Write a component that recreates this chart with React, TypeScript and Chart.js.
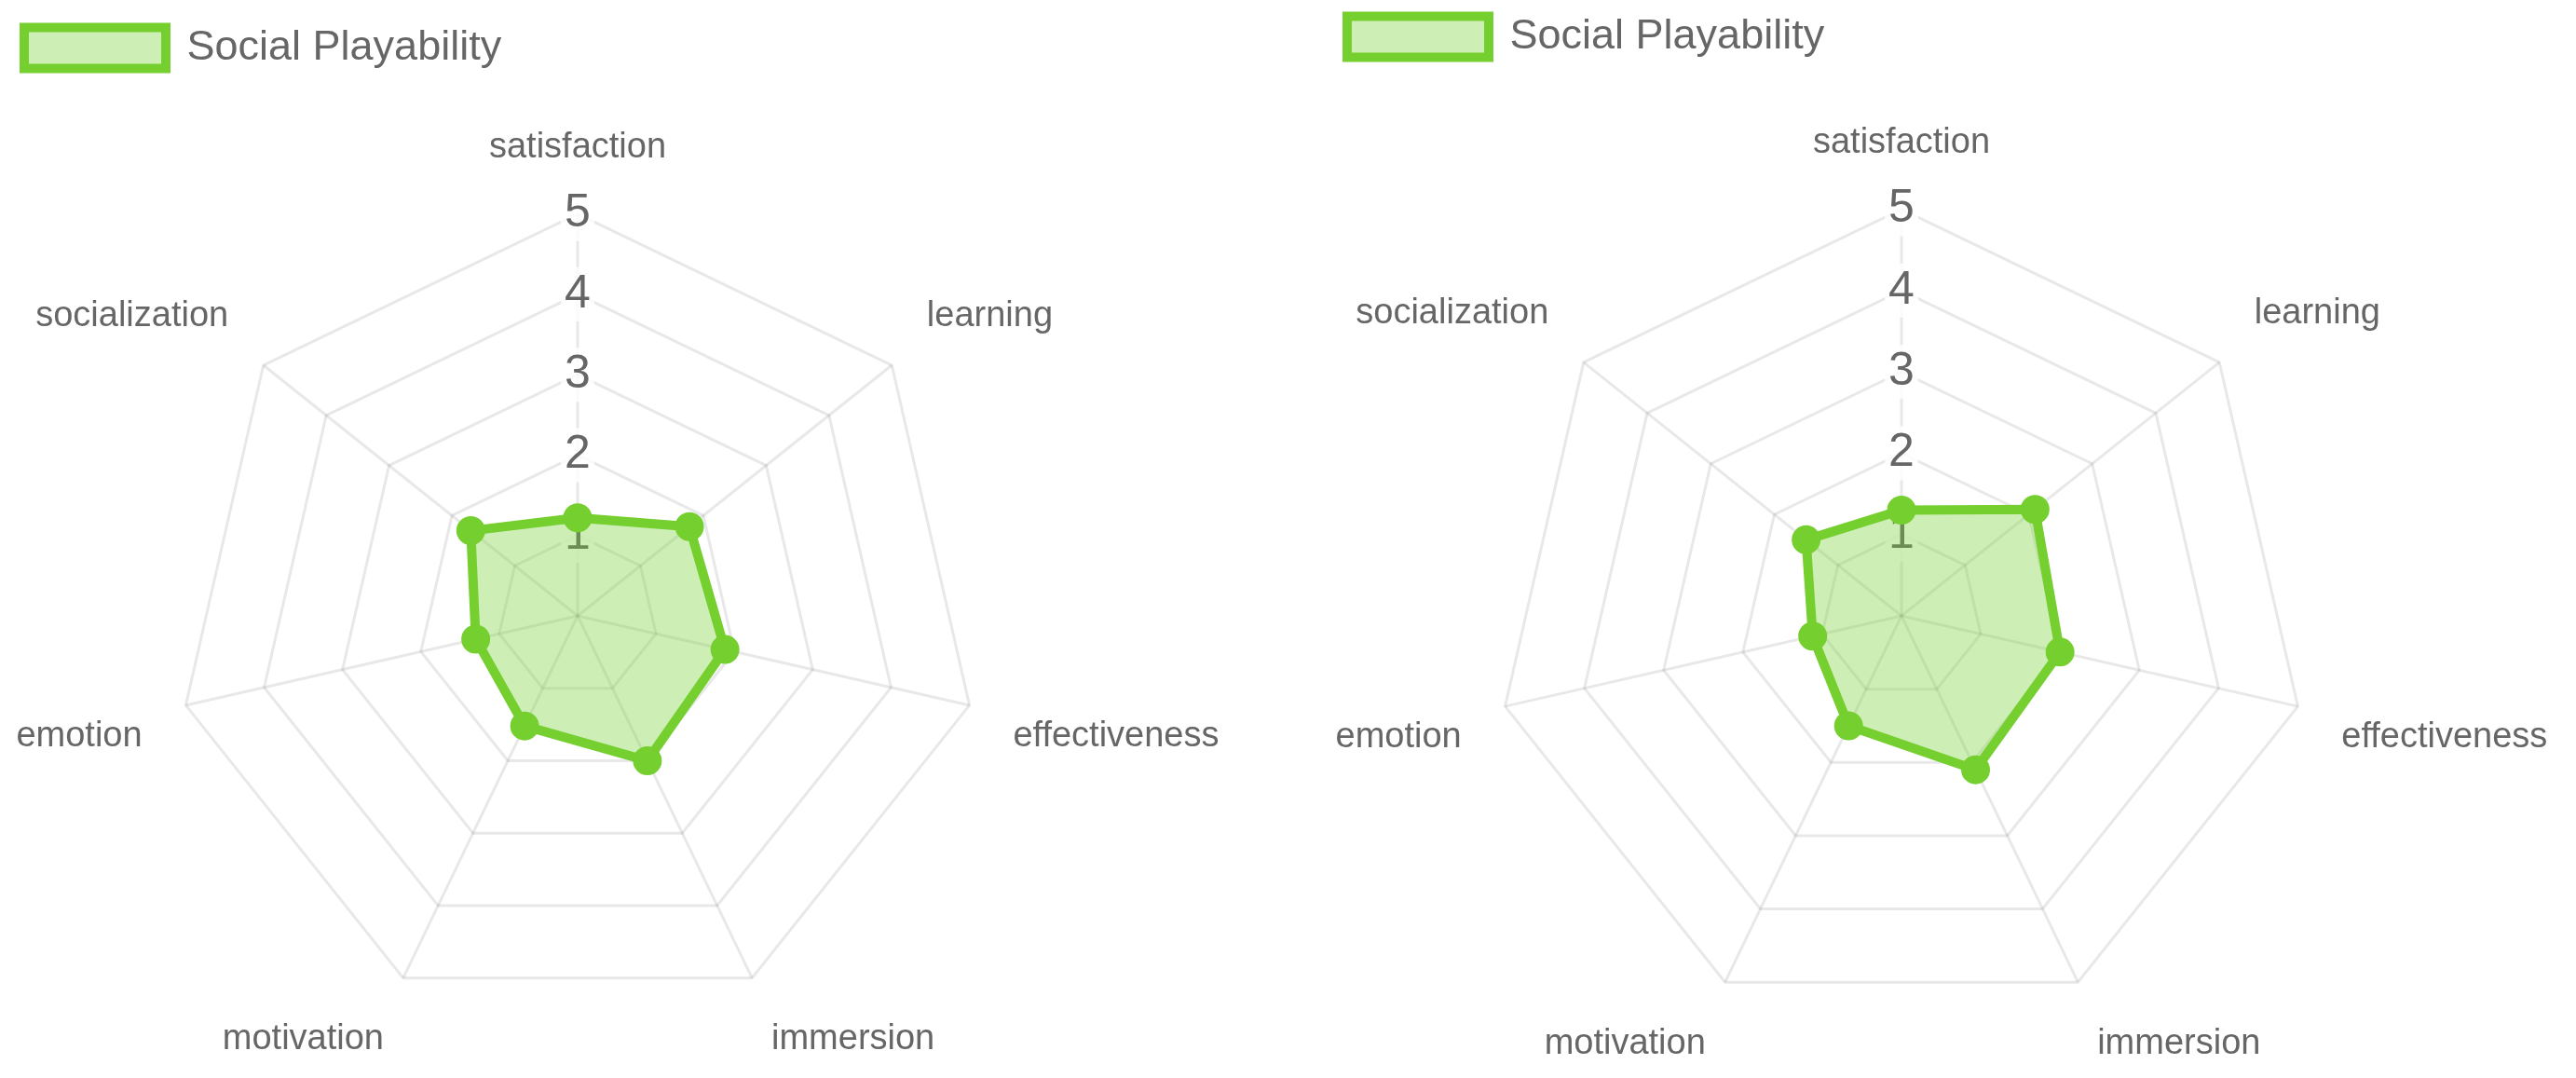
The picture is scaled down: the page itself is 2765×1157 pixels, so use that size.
import React, { useEffect, useRef } from 'react';
import { Chart, registerables } from 'chart.js';

Chart.register(...registerables);

// ---------- data ----------
const categories = ['satisfaction', 'learning', 'effectiveness', 'immersion', 'motivation', 'emotion', 'socialization'];
const seriesLabel = 'Social Playability';
const leftValues = [1.22, 1.78, 1.88, 2.0, 1.52, 1.3, 1.7];
const rightValues = [1.3, 2.1, 2.0, 2.1, 1.5, 1.12, 1.5];
const scaleMin = 0;
const scaleMax = 5;
const scaleStep = 1;

// ---------- style ----------
const GREEN = '#74cf2f';
const FILL = 'rgba(116, 207, 47, 0.36)';
const TEXT = '#666666';
const GRID = 'rgba(0, 0, 0, 0.09)';
const FONT = "'Liberation Sans', Arial, Helvetica, sans-serif";

type Panel = {
  left: number;
  top: number;
  width: number;
  height: number;
  legendPad: number;
  legendExtra: number;
  values: number[];
};

const panels: Panel[] = [
  { left: -68, top: -65, width: 1420, height: 1227, legendPad: 94, legendExtra: 28, values: leftValues },
  { left: 1356, top: -73, width: 1420, height: 1239, legendPad: 90, legendExtra: 34, values: rightValues },
];

// adds extra space under the legend (between legend and plot)
const legendSpacer = {
  id: 'legendSpacer',
  beforeInit(chart: any, _args: any, opts: any) {
    const legend = chart.legend;
    if (!legend) return;
    const orig = legend.fit;
    legend.fit = function () {
      orig.call(this);
      this.height += (opts && opts.extra) || 0;
    };
  },
};

function RadarPanel({ panel }: { panel: Panel }) {
  const ref = useRef<HTMLCanvasElement | null>(null);

  useEffect(() => {
    if (!ref.current) return;
    const chart = new Chart(ref.current, {
      type: 'radar',
      data: {
        labels: categories,
        datasets: [
          {
            label: seriesLabel,
            data: panel.values,
            borderColor: GREEN,
            backgroundColor: FILL,
            borderWidth: 10,
            fill: true,
            pointRadius: 12,
            pointBorderWidth: 7,
            pointBackgroundColor: GREEN,
            pointBorderColor: GREEN,
            pointHoverRadius: 12,
          },
        ],
      },
      options: {
        responsive: false,
        maintainAspectRatio: false,
        devicePixelRatio: 1,
        animation: false,
        events: [],
        layout: { padding: 0 },
        font: { family: FONT },
        plugins: {
          legendSpacer: { extra: panel.legendExtra },
          tooltip: { enabled: false },
          title: { display: false },
          legend: {
            display: true,
            position: 'top',
            align: 'start',
            labels: {
              boxWidth: 152,
              boxHeight: 44,
              padding: panel.legendPad,
              color: TEXT,
              font: { family: FONT, size: 45 },
            },
          },
        } as any,
        scales: {
          r: {
            min: scaleMin,
            max: scaleMax,
            beginAtZero: true,
            angleLines: { display: true, color: GRID, lineWidth: 3 },
            grid: { color: GRID, lineWidth: 3, circular: false },
            pointLabels: {
              display: true,
              padding: 19,
              color: TEXT,
              font: { family: FONT, size: 38 },
            },
            ticks: {
              stepSize: scaleStep,
              color: TEXT,
              font: { family: FONT, size: 50 },
              showLabelBackdrop: true,
              backdropColor: 'rgba(255, 255, 255, 0.8)',
              backdropPadding: 4,
            },
          },
        },
      },
      plugins: [legendSpacer as any],
    } as any);
    return () => chart.destroy();
  }, [panel]);

  return (
    <canvas
      ref={ref}
      width={panel.width}
      height={panel.height}
      style={{
        position: 'absolute',
        left: panel.left,
        top: panel.top,
        width: panel.width,
        height: panel.height,
      }}
    />
  );
}

export default function App() {
  return (
    <div
      style={{
        position: 'fixed',
        left: 0,
        top: 0,
        width: 2765,
        height: 1157,
        overflow: 'hidden',
        background: '#ffffff',
      }}
    >
      {panels.map((p, i) => (
        <RadarPanel key={i} panel={p} />
      ))}
    </div>
  );
}
